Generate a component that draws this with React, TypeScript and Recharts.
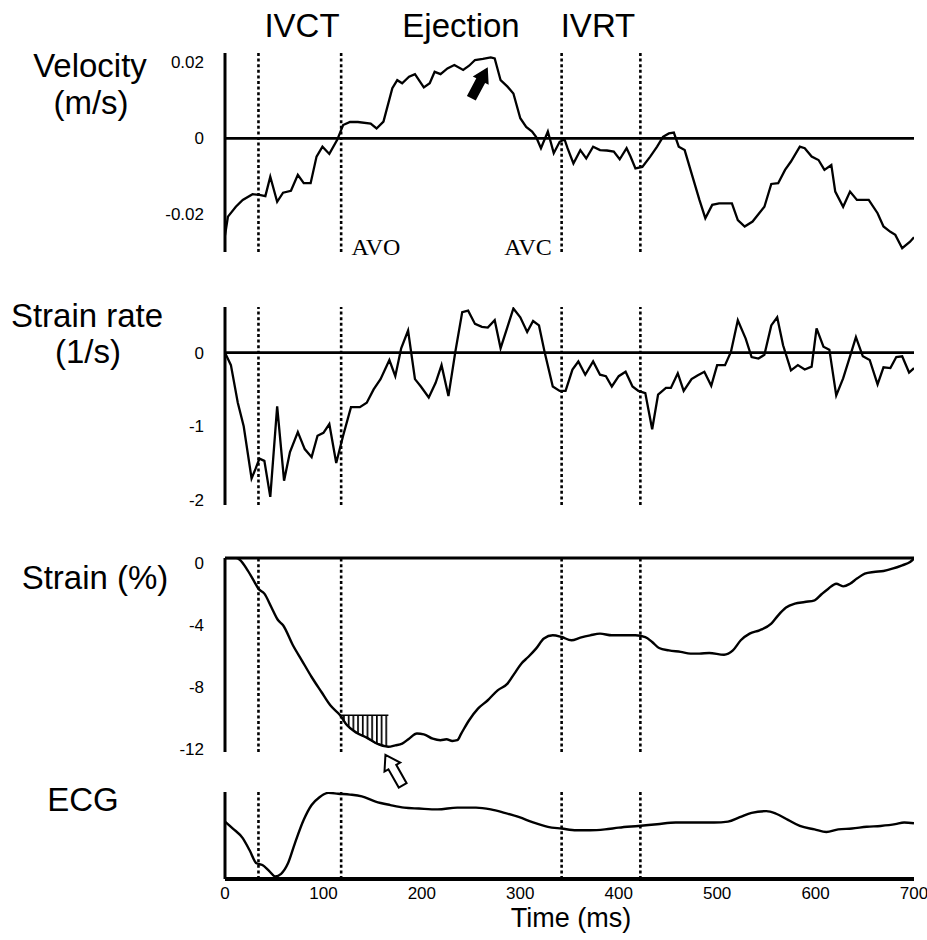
import React from 'react';
import { LineChart, ComposedChart, Line, Area, XAxis, YAxis, ReferenceLine, ReferenceDot } from 'recharts';

// ---------- data ----------
const phaseMarkers = [34, 118, 342, 422]; // ms, dotted vertical lines
const timeTicks = [0, 100, 200, 300, 400, 500, 600, 700];

const velTime = [0, 3, 11, 18, 28, 35, 41, 46, 53, 59, 67, 74, 80, 87, 93, 99, 106, 114, 120, 127, 135, 148, 154, 161, 170, 175, 180, 187, 193, 202, 208, 213, 219, 226, 233, 242, 248, 254, 262, 270, 274, 280, 287, 293, 300, 306, 312, 316, 321, 328, 334, 340, 345, 348, 354, 361, 367, 374, 381, 388, 395, 401, 408, 412, 417, 424, 432, 439, 445, 451, 456, 461, 467, 474, 482, 488, 495, 502, 515, 521, 528, 536, 548, 555, 562, 569, 575, 584, 589, 596, 603, 609, 616, 620, 628, 635, 642, 654, 663, 669, 676, 681, 688, 696, 700];
const velValues = [-0.0255, -0.0206, -0.018, -0.0162, -0.0147, -0.0149, -0.0152, -0.0101, -0.0167, -0.0143, -0.0138, -0.0096, -0.0118, -0.0118, -0.0048, -0.0022, -0.0041, -0.0004, 0.0035, 0.0043, 0.0043, 0.0039, 0.0026, 0.0044, 0.0132, 0.0153, 0.0145, 0.0162, 0.0169, 0.0134, 0.0145, 0.0175, 0.0169, 0.0184, 0.0193, 0.018, 0.0191, 0.0206, 0.0209, 0.0213, 0.021, 0.0153, 0.0136, 0.0118, 0.0053, 0.003, 0.0018, 0.0004, -0.0026, 0.0018, -0.0039, -0.0009, -0.0003, -0.0026, -0.0066, -0.0031, -0.0053, -0.0022, -0.0031, -0.0032, -0.0035, -0.0055, -0.0026, -0.0048, -0.0079, -0.0075, -0.0048, -0.0022, 0.0004, 0.0013, 0.0015, -0.0022, -0.0031, -0.0092, -0.0162, -0.021, -0.0175, -0.0171, -0.0171, -0.0215, -0.0232, -0.0219, -0.018, -0.012, -0.0118, -0.0083, -0.0061, -0.0022, -0.0026, -0.0048, -0.0057, -0.0083, -0.007, -0.014, -0.018, -0.014, -0.0162, -0.0162, -0.0197, -0.0232, -0.0246, -0.0254, -0.0289, -0.0272, -0.026];
const velTicks = [-0.02, 0, 0.02];

const srTime = [0, 6, 13, 19, 27, 31, 35, 40, 46, 53, 60, 66, 74, 81, 88, 94, 100, 106, 113, 120, 128, 137, 144, 151, 158, 167, 173, 179, 186, 193, 199, 207, 214, 220, 227, 234, 241, 247, 254, 261, 267, 274, 280, 287, 293, 300, 307, 313, 319, 325, 333, 340, 346, 353, 359, 366, 374, 381, 387, 393, 400, 407, 414, 420, 427, 434, 440, 448, 453, 460, 466, 474, 480, 487, 494, 500, 508, 514, 521, 529, 535, 542, 548, 555, 561, 567, 575, 582, 589, 596, 601, 608, 614, 621, 628, 635, 641, 648, 655, 663, 669, 676, 682, 688, 695, 700];
const srValues = [0, -0.17, -0.68, -1.0, -1.71, -1.58, -1.44, -1.47, -1.96, -0.73, -1.74, -1.35, -1.08, -1.31, -1.42, -1.13, -1.09, -0.97, -1.5, -1.13, -0.74, -0.74, -0.68, -0.5, -0.36, -0.1, -0.32, 0.06, 0.3, -0.36, -0.46, -0.61, -0.41, -0.17, -0.59, 0.01, 0.55, 0.57, 0.39, 0.35, 0.34, 0.44, 0.06, 0.35, 0.6, 0.48, 0.28, 0.43, 0.37, -0.01, -0.46, -0.52, -0.52, -0.23, -0.12, -0.3, -0.12, -0.3, -0.32, -0.46, -0.32, -0.26, -0.46, -0.52, -0.55, -1.04, -0.57, -0.48, -0.48, -0.28, -0.52, -0.36, -0.31, -0.26, -0.45, -0.17, -0.17, 0.01, 0.44, 0.19, -0.06, -0.08, -0.03, 0.37, 0.48, 0.1, -0.24, -0.17, -0.23, -0.19, 0.33, 0.08, 0.04, -0.58, -0.35, -0.05, 0.21, -0.05, -0.1, -0.43, -0.2, -0.21, -0.06, -0.05, -0.27, -0.21];
const srTicks = [-2, -1, 0];

const strainTime = [0, 3, 11, 15, 23, 30, 34, 40, 47, 54, 59, 69, 78, 88, 98, 107, 117, 124, 134, 144, 153, 166, 173, 180, 187, 195, 202, 211, 219, 225, 231, 236, 240, 248, 257, 267, 277, 287, 294, 301, 308, 316, 324, 333, 342, 352, 361, 371, 381, 393, 405, 417, 427, 434, 441, 451, 463, 473, 482, 492, 507, 516, 524, 533, 543, 555, 562, 570, 579, 589, 599, 606, 613, 621, 628, 635, 642, 650, 659, 669, 678, 688, 696, 700];
const strainValues = [0, 0, 0, -0.11, -0.8, -1.55, -1.98, -2.3, -3.16, -4.02, -4.34, -5.63, -6.6, -7.68, -8.65, -9.51, -10.15, -10.8, -11.29, -11.59, -11.94, -12.18, -12.09, -11.98, -11.66, -11.33, -11.38, -11.66, -11.76, -11.7, -11.81, -11.76, -11.33, -10.47, -9.72, -9.18, -8.54, -8.11, -7.46, -6.82, -6.39, -5.85, -5.2, -4.99, -5.1, -5.31, -5.14, -4.99, -4.88, -4.99, -4.99, -4.99, -5.1, -5.42, -5.81, -5.96, -6.06, -6.17, -6.17, -6.13, -6.24, -5.96, -5.31, -4.88, -4.67, -4.24, -3.7, -3.2, -2.95, -2.84, -2.73, -2.34, -1.98, -1.66, -1.83, -1.66, -1.33, -1.01, -0.9, -0.84, -0.69, -0.47, -0.26, -0.04];
const strainTicks = [-12, -8, -4, 0];
const hatchStart = 117;
const hatchEnd = 166;
const hatchTop = -10.15;
const strainMin = { t: 163, v: -12.19 };
const velocityPeak = { t: 270, v: 0.0213 };

const ecgTime = [0, 8, 18, 25, 32, 38, 45, 51, 57, 64, 71, 80, 88, 96, 105, 115, 127, 139, 153, 168, 182, 197, 216, 236, 255, 270, 284, 299, 313, 328, 342, 357, 371, 386, 400, 420, 439, 458, 477, 497, 511, 523, 535, 550, 560, 572, 584, 599, 611, 623, 637, 652, 666, 681, 690, 700];
const ecgValues = [0.66, 0.58, 0.47, 0.33, 0.18, 0.16, 0.09, 0.03, 0.06, 0.18, 0.41, 0.68, 0.85, 0.94, 0.99, 0.98, 0.97, 0.95, 0.89, 0.85, 0.82, 0.81, 0.8, 0.82, 0.82, 0.8, 0.76, 0.71, 0.65, 0.6, 0.58, 0.56, 0.56, 0.57, 0.59, 0.61, 0.63, 0.65, 0.65, 0.65, 0.66, 0.71, 0.76, 0.78, 0.75, 0.68, 0.61, 0.57, 0.54, 0.57, 0.58, 0.6, 0.61, 0.63, 0.65, 0.64];

// ---------- tables ----------
const velData = velTime.map((t, i) => ({ t, v: velValues[i] }));
const srData = srTime.map((t, i) => ({ t, v: srValues[i] }));
const strainData = strainTime.map((t, i) => ({
  t,
  v: strainValues[i],
  h: t >= hatchStart && t <= hatchEnd ? [strainValues[i], hatchTop] : null,
}));
const ecgData = ecgTime.map((t, i) => ({ t, v: ecgValues[i] }));

const SANS = '"Liberation Sans", Arial, sans-serif';
const SERIF = '"Liberation Serif", "Times New Roman", serif';
const W = 927;
const MR = 13;
const ML = 175;
const YW = 50;

const tickStyle = { fill: '#000', fontSize: 17, fontFamily: SANS };

const FilledArrow = (props: any) => {
  const { cx, cy } = props;
  return (
    <polygon
      points="0,0 9,15 5,15 5,35 -5,35 -5,15 -9,15"
      transform={`translate(${cx - 3},${cy + 10}) rotate(28)`}
      fill="#000"
    />
  );
};

const HollowArrow = (props: any) => {
  const { cx, cy } = props;
  return (
    <polygon
      points="0,0 9,14 4.5,14 4.5,35 -4.5,35 -4.5,14 -9,14"
      transform={`translate(${cx},${cy + 8}) rotate(-29.5)`}
      fill="#fff"
      stroke="#000"
      strokeWidth={2}
      strokeLinejoin="miter"
    />
  );
};

const markerLines = (key: string) =>
  phaseMarkers.map((m) => (
    <ReferenceLine key={key + m} x={m} stroke="#000" strokeWidth={2.6} strokeDasharray="3 2.6" />
  ));

export default function App() {
  return (
    <div style={{ position: 'absolute', left: 0, top: 0, width: W, height: 940, background: '#fff', overflow: 'hidden' }}>
      <svg width={0} height={0} style={{ position: 'absolute' }}>
        <defs>
          <pattern id="vhatch" width={4.7} height={10} patternUnits="userSpaceOnUse">
            <rect x={0} y={0} width={4.7} height={10} fill="#fff" />
            <rect x={0} y={0} width={1.7} height={10} fill="#000" />
          </pattern>
        </defs>
      </svg>

      {/* Velocity */}
      <div style={{ position: 'absolute', left: 0, top: 0 }}>
        <LineChart width={W} height={270} data={velData} margin={{ top: 53, right: MR, bottom: 18, left: ML }}>
          <XAxis type="number" dataKey="t" domain={[0, 700]} hide allowDataOverflow />
          <YAxis
            width={YW}
            domain={[-0.0299, 0.02245]}
            allowDataOverflow
            ticks={velTicks}
            tickFormatter={(v: number) => (v === 0 ? '0' : v.toFixed(2))}
            tick={tickStyle}
            tickLine={false}
            tickSize={0}
            tickMargin={21}
            axisLine={{ stroke: '#000', strokeWidth: 3 }}
          />
          {markerLines('v')}
          <ReferenceLine y={0} stroke="#000" strokeWidth={2.6} />
          <Line type="linear" dataKey="v" stroke="#000" strokeWidth={2.3} dot={false} isAnimationActive={false} />
          <ReferenceDot x={velocityPeak.t} y={velocityPeak.v} r={0} shape={FilledArrow} />
        </LineChart>
      </div>

      {/* Strain rate */}
      <div style={{ position: 'absolute', left: 0, top: 280 }}>
        <LineChart width={W} height={240} data={srData} margin={{ top: 27, right: MR, bottom: 15, left: ML }}>
          <XAxis type="number" dataKey="t" domain={[0, 700]} hide allowDataOverflow />
          <YAxis
            width={YW}
            domain={[-2.07, 0.62]}
            allowDataOverflow
            ticks={srTicks}
            tick={tickStyle}
            tickLine={false}
            tickSize={0}
            tickMargin={21}
            axisLine={{ stroke: '#000', strokeWidth: 3 }}
          />
          {markerLines('s')}
          <ReferenceLine y={0} stroke="#000" strokeWidth={2.6} />
          <Line type="linear" dataKey="v" stroke="#000" strokeWidth={2.3} dot={false} isAnimationActive={false} />
        </LineChart>
      </div>

      {/* Strain */}
      <div style={{ position: 'absolute', left: 0, top: 530 }}>
        <ComposedChart width={W} height={270} data={strainData} margin={{ top: 28, right: MR, bottom: 48, left: ML }}>
          <XAxis type="number" dataKey="t" domain={[0, 700]} hide allowDataOverflow />
          <YAxis
            width={YW}
            domain={[-12.52, 0]}
            allowDataOverflow
            ticks={strainTicks}
            tick={{ ...tickStyle, dy: 5 }}
            tickLine={false}
            tickSize={0}
            tickMargin={21}
            axisLine={{ stroke: '#000', strokeWidth: 3 }}
          />
          {markerLines('e')}
          <ReferenceLine y={0} stroke="#000" strokeWidth={3} />
          <Area
            type="linear"
            dataKey="h"
            stroke="#000"
            strokeWidth={1.5}
            fill="url(#vhatch)"
            fillOpacity={1}
            connectNulls={false}
            isAnimationActive={false}
          />
          <Line type="monotone" dataKey="v" stroke="#000" strokeWidth={2.4} dot={false} isAnimationActive={false} />
          <ReferenceDot x={strainMin.t} y={strainMin.v} r={0} shape={HollowArrow} />
        </ComposedChart>
      </div>

      {/* ECG */}
      <div style={{ position: 'absolute', left: 0, top: 780 }}>
        <LineChart width={W} height={160} data={ecgData} margin={{ top: 12, right: MR, bottom: 31, left: ML }}>
          <XAxis
            type="number"
            dataKey="t"
            domain={[0, 700]}
            allowDataOverflow
            ticks={timeTicks}
            height={30}
            tick={tickStyle}
            tickLine={false}
            axisLine={{ stroke: '#000', strokeWidth: 4 }}
          />
          <YAxis width={YW} domain={[0, 1]} allowDataOverflow ticks={[]} tick={false} tickLine={false} axisLine={{ stroke: '#000', strokeWidth: 3 }} />
          {markerLines('g')}
          <Line type="monotone" dataKey="v" stroke="#000" strokeWidth={2.4} dot={false} isAnimationActive={false} />
        </LineChart>
      </div>

      {/* Text overlay */}
      <svg width={W} height={940} style={{ position: 'absolute', left: 0, top: 0, pointerEvents: 'none' }}>
        <g fontFamily={SANS} fontSize={33} fill="#000" textAnchor="middle">
          <text x={302} y={37}>IVCT</text>
          <text x={461} y={37}>Ejection</text>
          <text x={598} y={37}>IVRT</text>
          <text x={90} y={77}>Velocity</text>
          <text x={91} y={114}>(m/s)</text>
          <text x={87} y={327}>Strain rate</text>
          <text x={88} y={363}>(1/s)</text>
          <text x={95} y={589}>Strain (%)</text>
          <text x={83} y={811}>ECG</text>
          <text x={571} y={927} fontSize={27}>Time (ms)</text>
        </g>
        <g fontFamily={SERIF} fontSize={24} fill="#000" textAnchor="middle">
          <text x={376} y={255}>AVO</text>
          <text x={528} y={255}>AVC</text>
        </g>
      </svg>
    </div>
  );
}
